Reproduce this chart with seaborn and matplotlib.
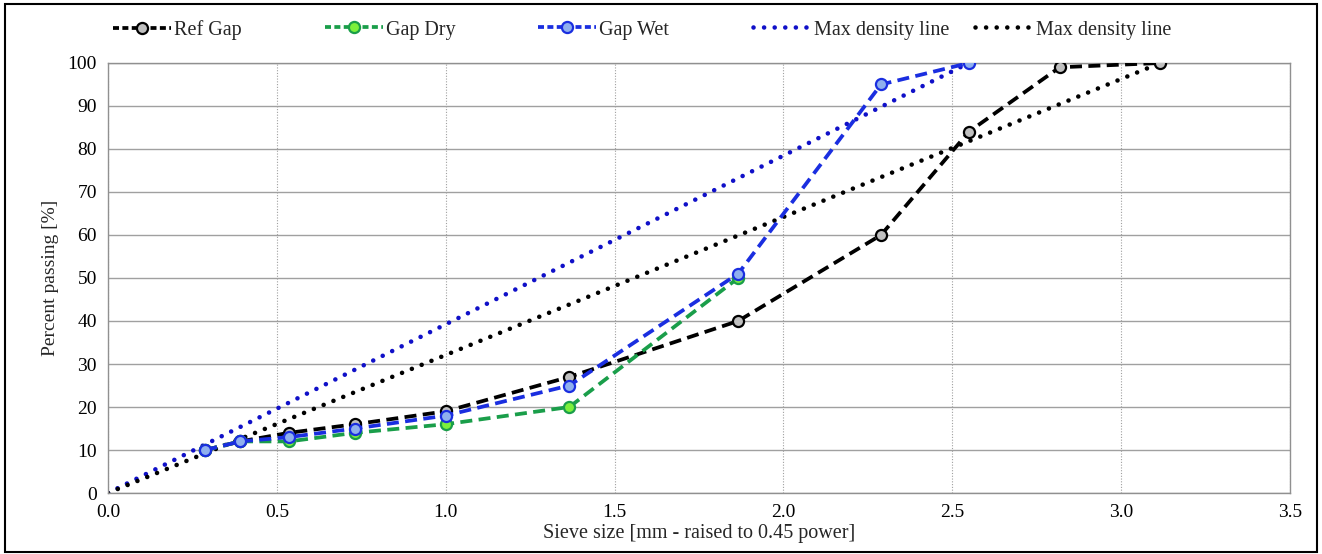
import matplotlib
matplotlib.use("Agg")
import matplotlib.pyplot as plt
import seaborn as sns
from matplotlib.lines import Line2D
from matplotlib.patches import Rectangle

# sieve sizes (mm^0.45)
sieve_ref = [0.288, 0.392, 0.536, 0.732, 1.0, 1.366, 1.866, 2.289, 2.549, 2.818, 3.116]
ref_gap = [10, 12, 14, 16, 19, 27, 40, 60, 84, 99, 100]

sieve_dry = [0.288, 0.392, 0.536, 0.732, 1.0, 1.366, 1.866]
gap_dry = [10, 12, 12, 14, 16, 20, 50]

sieve_wet = [0.288, 0.392, 0.536, 0.732, 1.0, 1.366, 1.866, 2.289, 2.549]
gap_wet = [10, 12, 13, 15, 18, 25, 51, 95, 100]

max_blue_x = [0.0, 2.549]
max_blue_y = [0, 100]
max_black_x = [0.0, 3.116]
max_black_y = [0, 100]

labels = ["Ref Gap", "Gap Dry", "Gap Wet", "Max density line", "Max density line"]

sns.set_theme(style="white")
plt.rcParams["font.family"] = ["Liberation Serif", "DejaVu Serif"]

fig = plt.figure(figsize=(13.22, 5.54), dpi=100)
ax = fig.add_axes([0.0817, 0.1101, 0.8941, 0.7762])

c_black, c_green, c_blue, c_dblue = "#000000", "#1a9e4a", "#1a2ee0", "#1010c8"
lw, ms, mew = 2.7, 8, 1.6
dash = (0, (3.2, 1.7))
dot = (0, (0.01, 2.3))
dot_lw = 3.3

sns.lineplot(x=max_blue_x, y=max_blue_y, ax=ax, color=c_dblue, lw=dot_lw,
             linestyle=dot, dash_capstyle="round", zorder=2)
sns.lineplot(x=max_black_x, y=max_black_y, ax=ax, color=c_black, lw=dot_lw,
             linestyle=dot, dash_capstyle="round", zorder=2)
sns.lineplot(x=sieve_ref, y=ref_gap, ax=ax, color=c_black, lw=lw, linestyle=dash,
             marker="o", ms=ms, mfc="#c0c0c0", mec=c_black, mew=mew, zorder=3)
sns.lineplot(x=sieve_dry, y=gap_dry, ax=ax, color=c_green, lw=lw, linestyle=dash,
             marker="o", ms=ms, mfc="#7cf03c", mec=c_green, mew=mew, zorder=4)
sns.lineplot(x=sieve_wet, y=gap_wet, ax=ax, color=c_blue, lw=lw, linestyle=dash,
             marker="o", ms=ms, mfc="#8fb0ee", mec=c_blue, mew=mew, zorder=5)

ax.set_xlim(0, 3.5)
ax.set_ylim(0, 100)
xt = [0.0, 0.5, 1.0, 1.5, 2.0, 2.5, 3.0, 3.5]
ax.set_xticks(xt)
ax.set_xticklabels([f"{v:.1f}" for v in xt])
ax.set_yticks(range(0, 101, 10))
ax.tick_params(axis="both", length=0, labelsize=14, pad=8, colors="black")
ax.grid(axis="y", color="#a0a0a0", lw=1.0, ls="-")
ax.grid(axis="x", color="#a0a0a0", lw=0.8, ls=(0, (1, 1.5)))
ax.set_axisbelow(True)
for s in ax.spines.values():
    s.set_color("#909090")
    s.set_linewidth(1.0)
ax.set_xlabel("Sieve size [mm - raised to 0.45 power]", fontsize=14.5, labelpad=2)
ax.set_ylabel("Percent passing [%]", fontsize=14, labelpad=6)

leg_dash = (0, (1.6, 0.9))
handles = [
    Line2D([], [], color=c_black, lw=lw, ls=leg_dash, marker="o", ms=ms, mfc="#c0c0c0", mec=c_black, mew=mew),
    Line2D([], [], color=c_green, lw=lw, ls=leg_dash, marker="o", ms=ms, mfc="#7cf03c", mec=c_green, mew=mew),
    Line2D([], [], color=c_blue, lw=lw, ls=leg_dash, marker="o", ms=ms, mfc="#8fb0ee", mec=c_blue, mew=mew),
    Line2D([], [], color=c_dblue, lw=dot_lw, ls=dot, dash_capstyle="round"),
    Line2D([], [], color=c_black, lw=dot_lw, ls=dot, dash_capstyle="round"),
]
# legend entries placed individually (x of handle start in pixels)
leg_x = [113, 325, 538, 753, 975]
for h, lab, px in zip(handles, labels, leg_x):
    lg = fig.legend([h], [lab], loc="center left", bbox_to_anchor=(px / 1322, 1 - 30 / 554),
                    frameon=False, fontsize=14.5, handlelength=2.9, handletextpad=0.15,
                    borderpad=0, borderaxespad=0)

fig.add_artist(Rectangle((0.004, 0.004), 0.992, 0.988, transform=fig.transFigure,
                         fill=False, edgecolor="black", lw=1.5))

fig.savefig("out.png", dpi=100)
